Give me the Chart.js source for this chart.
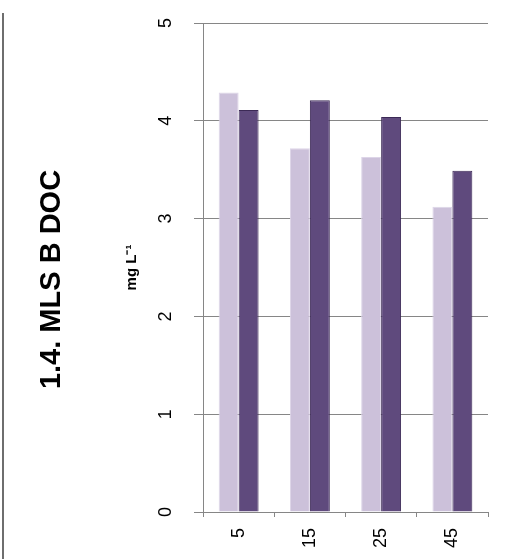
<!DOCTYPE html>
<html>
<head>
<meta charset="utf-8">
<script src="https://cdn.jsdelivr.net/npm/chart.js@4"></script>
<style>
  html, body { margin: 0; padding: 0; background: #ffffff; }
  #wrap { position: relative; width: 505px; height: 559px; }
  #frame { position: absolute; left: 2px; top: 13px; width: 2px; height: 546px; background: #6e6e6e; }
  canvas { position: absolute; left: 0; top: 0; }
</style>
</head>
<body>
<div id="wrap">
  <div id="frame"></div>
  <canvas id="c" width="505" height="559"></canvas>
</div>
<script>
const categories = ['5', '15', '25', '45'];
const seriesLight = [4.29, 3.72, 3.63, 3.12];
const seriesDark = [4.11, 4.21, 4.04, 3.49];
const yTicks = [0, 1, 2, 3, 4, 5];
const chartTitle = '1.4. MLS B DOC';
const yAxisTitle = 'mg L\u207B\u00B9';

const gridGrey = '#868686';
const fontFam = "'Liberation Sans', Arial, sans-serif";

new Chart(document.getElementById('c'), {
  type: 'bar',
  data: {
    labels: categories,
    datasets: [
      { data: seriesLight, backgroundColor: '#ccc1da', borderColor: '#ddd5e8', borderWidth: 1,
        categoryPercentage: 0.56, barPercentage: 1.0 },
      { data: seriesDark, backgroundColor: '#5f4a7d', borderColor: '#3c2a56', borderWidth: 1,
        categoryPercentage: 0.56, barPercentage: 1.0 }
    ]
  },
  options: {
    responsive: false,
    animation: false,
    devicePixelRatio: 1,
    layout: { padding: { top: 0, bottom: 0, left: 0, right: 17 } },
    plugins: {
      legend: { display: false },
      tooltip: { enabled: false },
      title: {
        display: true,
        position: 'left',
        text: chartTitle,
        color: '#000000',
        font: { family: fontFam, size: 29, weight: 'bold', lineHeight: 1.2 },
        padding: { top: 35, bottom: 0 }
      }
    },
    scales: {
      x: {
        offset: true,
        grid: { display: true, drawOnChartArea: false, drawTicks: true, tickLength: 5, color: gridGrey, lineWidth: 1 },
        border: { display: true, color: gridGrey, width: 1 },
        ticks: { minRotation: 90, maxRotation: 90, padding: 11, color: '#000000',
                 font: { family: fontFam, size: 18 } },
        afterFit: (s) => { s.height = 47; s.paddingLeft = 0; s.paddingRight = 0; }
      },
      y: {
        min: 0,
        max: 5,
        afterBuildTicks: (s) => { s.ticks = yTicks.map(v => ({ value: v })); },
        grid: { display: true, drawTicks: true, tickLength: 9, color: gridGrey, lineWidth: 1 },
        border: { display: true, color: gridGrey, width: 1 },
        ticks: { minRotation: 90, maxRotation: 90, crossAlign: 'center', padding: 23, color: '#000000',
                 font: { family: fontFam, size: 18 } },
        title: {
          display: true,
          text: yAxisTitle,
          color: '#000000',
          font: { family: fontFam, size: 15, weight: 'bold', lineHeight: 1.2 },
          padding: { top: 53, bottom: 0 }
        },
        afterFit: (s) => { s.width = 133.2; s.paddingTop = 23; s.paddingBottom = 0; }
      }
    }
  }
});
</script>
</body>
</html>
